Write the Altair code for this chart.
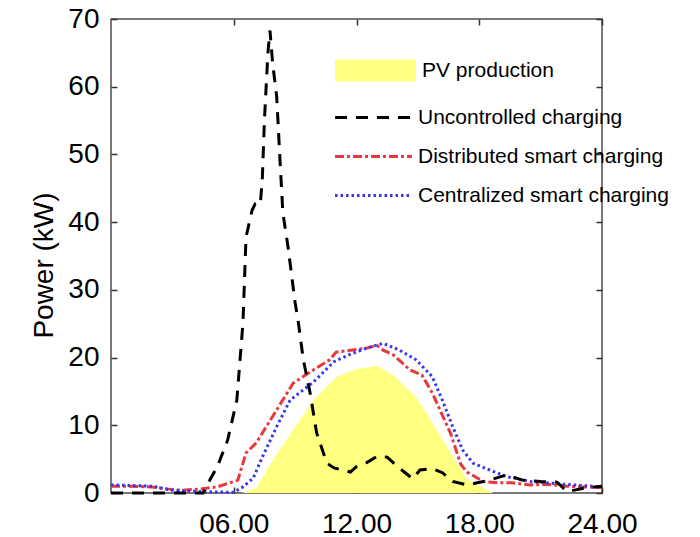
import altair as alt
import pandas as pd

# ---- data ----
series_names = ["PV production", "Uncontrolled charging",
                "Distributed smart charging", "Centralized smart charging"]

pv_hours = [0, 6.4, 7.1, 7.9, 9.0, 9.9, 11.0, 12.0, 13.0, 13.8, 14.9, 15.7, 16.6, 17.4, 18.7, 24]
pv_kw = [0, 0, 0.7, 4.8, 9.8, 13.7, 17.1, 18.3, 18.8, 17.4, 14.2, 10.4, 5.9, 2.0, 0, 0]

unc_hours = [0, 4.5, 4.7, 5.2, 5.7, 6.15, 6.45, 6.6, 6.9, 7.05, 7.3, 7.4, 7.5, 7.67, 7.77,
             7.9, 8.1, 8.26, 8.4, 8.65, 9.0, 9.14, 9.4, 9.73, 10.05, 10.55, 10.9, 11.7,
             12.0, 12.5, 13.0, 13.5, 14.0, 14.75, 15.1, 15.7, 16.2, 16.7, 17.4, 17.9,
             18.5, 19.35, 20.1, 21.0, 21.8, 22.3, 23.1, 24]
unc_kw = [0, 0, 1.2, 3.9, 7.8, 13.7, 25.1, 37.8, 41.8, 42.7, 42.6, 46.7, 55.1, 65.0, 68.3,
          63.5, 58.5, 49.2, 41.4, 36.4, 28.1, 25.6, 19.7, 14.8, 8.9, 4.4, 3.7, 3.1,
          3.9, 4.5, 5.4, 5.3, 3.9, 2.1, 3.4, 3.6, 3.0, 1.7, 1.2, 1.5,
          1.9, 2.7, 1.9, 1.7, 1.6, 0.2, 0.7, 1.0]

dist_hours = [0, 1, 2, 3, 3.5, 4.4, 5.2, 6.2, 6.6, 7.1, 7.9, 8.9, 9.9, 10.7, 11.0, 12.0,
              12.5, 13.0, 13.3, 13.8, 14.6, 15.2, 15.7, 16.6, 17.1, 17.4, 18.2, 19.0,
              19.6, 20.5, 21.3, 22.3, 23.0, 24]
dist_kw = [1.0, 1.0, 0.9, 0.5, 0.4, 0.6, 0.9, 1.9, 5.9, 7.4, 11.3, 16.2, 18.2, 19.7, 20.8, 21.2,
           21.4, 21.8, 21.1, 20.4, 18.2, 17.4, 14.8, 8.8, 4.2, 3.1, 1.7, 1.5,
           1.5, 1.2, 1.3, 1.0, 0.9, 0.8]

cent_hours = [0, 1, 2, 3, 4.35, 6.0, 6.45, 6.95, 7.4, 8.1, 8.75, 9.9, 10.9, 11.7, 12.5, 13.3,
              14.1, 14.9, 15.7, 16.2, 16.7, 17.2, 17.7, 18.5, 19.35, 20.5, 22.1, 24]
cent_kw = [1.2, 1.1, 1.0, 0.4, 0.2, 0.1, 0.9, 2.2, 5.3, 9.8, 13.7, 16.4, 19.4, 20.5, 21.4, 22.1,
           21.1, 19.7, 17.2, 13.7, 9.8, 6.3, 4.4, 3.4, 2.4, 1.7, 1.3, 0.9]

x_tick_values = [6, 12, 18, 24]
y_tick_values = [0, 10, 20, 30, 40, 50, 60, 70]

pv_df = pd.DataFrame({"hour": pv_hours, "kw": pv_kw, "series": series_names[0]})
unc_df = pd.DataFrame({"hour": unc_hours, "kw": unc_kw, "series": series_names[1]})
dist_df = pd.DataFrame({"hour": dist_hours, "kw": dist_kw, "series": series_names[2]})
cent_df = pd.DataFrame({"hour": cent_hours, "kw": cent_kw, "series": series_names[3]})

FONT = "Liberation Sans"
x_scale = alt.Scale(domain=[0, 24], nice=False, zero=False)
y_scale = alt.Scale(domain=[0, 70], nice=False)

line_names = series_names[1:]
stroke_scale = alt.Scale(domain=line_names, range=["#000000", "#e8383d", "#3535ee"])
dash_scale = alt.Scale(domain=line_names, range=[[12, 9], [9, 3, 3, 3], [2.5, 3]])

# elongated symbols with a small nominal size keep the legend rows compact
line_legend = alt.Legend(
    title=None, orient="none", legendX=251, legendY=87,
    symbolType="M-4,0H4", symbolSize=370, symbolStrokeWidth=3,
    labelFont=FONT, labelFontSize=21, labelColor="#000000", labelLimit=0,
    labelOffset=33, rowPadding=17, padding=0,
)
fill_legend = alt.Legend(
    title=None, orient="none", legendX=254, legendY=41,
    symbolType="M-4,-1.08H4V1.08H-4Z", symbolSize=410, symbolStrokeWidth=0,
    symbolOpacity=1,
    labelFont=FONT, labelFontSize=21, labelColor="#000000", labelLimit=0,
    labelOffset=36, padding=0,
)

bottom_axis = alt.Axis(
    orient="bottom", values=x_tick_values, title=None, grid=False, domain=False,
    offset=-6, tickSize=6, tickColor="#333333", tickWidth=1.5, labelPadding=17,
    labelExpr="(datum.value < 10 ? '0' : '') + datum.value + '.00'",
    labelFont=FONT, labelFontSize=28, labelColor="#000000", labelFlush=False,
)
left_axis = alt.Axis(
    orient="left", values=y_tick_values, title="Power (kW)", grid=False, domain=False,
    offset=-6, tickSize=6, tickColor="#333333", tickWidth=1.5, labelPadding=12,
    labelFont=FONT, labelFontSize=28, labelColor="#000000", labelFlush=False,
    titleFont=FONT, titleFontSize=28, titleFontWeight="normal", titleColor="#000000",
    titlePadding=9, titleY=246,
)
top_axis = alt.Axis(
    orient="top", values=x_tick_values, title=None, grid=False, domain=False,
    labels=False, offset=-6, tickSize=6, tickColor="#333333", tickWidth=1.5,
)
right_axis = alt.Axis(
    orient="right", values=y_tick_values, title=None, grid=False, domain=False,
    labels=False, offset=-6, tickSize=6, tickColor="#333333", tickWidth=1.5,
)

area = alt.Chart(pv_df).mark_area(opacity=1).encode(
    x=alt.X("hour:Q", scale=x_scale, axis=bottom_axis),
    y=alt.Y("kw:Q", scale=y_scale, axis=left_axis),
    fill=alt.Fill("series:N", scale=alt.Scale(domain=[series_names[0]], range=["#ffff80"]),
                  legend=fill_legend),
)


def line_layer(df, with_axes):
    return alt.Chart(df).mark_line(strokeWidth=3, strokeCap="butt").encode(
        x=alt.X("hour:Q", scale=x_scale, axis=top_axis if with_axes else None),
        y=alt.Y("kw:Q", scale=y_scale, axis=right_axis if with_axes else None),
        stroke=alt.Stroke("series:N", scale=stroke_scale, legend=line_legend),
        strokeDash=alt.StrokeDash("series:N", scale=dash_scale, legend=line_legend),
        order=alt.Order("hour:Q"),
    )


chart = alt.layer(
    area,
    line_layer(dist_df, True),
    line_layer(cent_df, False),
    line_layer(unc_df, False),
).resolve_axis(x="independent", y="independent").properties(
    width=491, height=474,
    autosize=alt.AutoSizeParams(type="none"),
    padding={"left": 111, "top": 19, "right": 98, "bottom": 44},
    background="#ffffff",
).configure_view(stroke="#4d4d4d", strokeWidth=1.5)

chart.save("out.html", embed_options={"renderer": "svg", "actions": False})
